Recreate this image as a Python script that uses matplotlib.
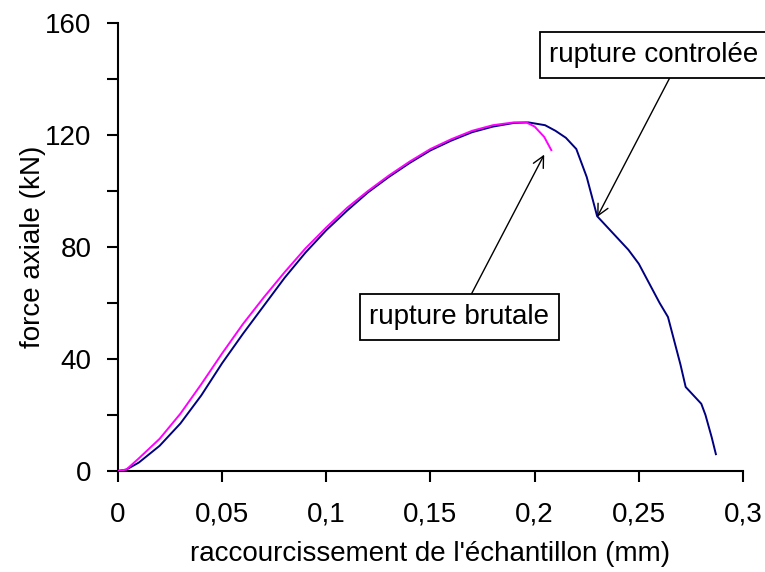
import matplotlib
matplotlib.use("Agg")
import matplotlib.pyplot as plt
from matplotlib.ticker import MultipleLocator, FuncFormatter

# controlled rupture (blue) and brutal rupture (magenta) curves
blue_x = [0, 0.004, 0.01, 0.02, 0.03, 0.04, 0.05, 0.06, 0.07, 0.08, 0.09, 0.1,
          0.11, 0.12, 0.13, 0.14, 0.15, 0.16, 0.17, 0.18, 0.19, 0.197, 0.205,
          0.21, 0.215, 0.22, 0.225, 0.23, 0.235, 0.24, 0.245, 0.25, 0.255,
          0.26, 0.264, 0.27, 0.2725, 0.28, 0.282, 0.285, 0.287]
blue_y = [0, 0.5, 3, 9, 17, 27, 38.5, 49, 59, 69, 78, 86,
          93, 99.5, 105, 110, 114.5, 118, 121, 123, 124.3, 124.5, 123.5,
          121.5, 119, 115, 105, 91, 87, 83, 79, 74, 67,
          60, 55, 38, 30, 24, 20, 12, 6]
pink_x = [0, 0.004, 0.01, 0.02, 0.03, 0.04, 0.05, 0.06, 0.07, 0.08, 0.09, 0.1,
          0.11, 0.12, 0.13, 0.14, 0.15, 0.16, 0.17, 0.18, 0.19, 0.196, 0.2,
          0.2046, 0.208]
pink_y = [0, 0.5, 4.5, 11.5, 20.5, 31, 42, 52.5, 62, 71, 79.5, 87,
          94, 100, 105.5, 110.5, 115, 118.5, 121.5, 123.5, 124.5, 124.5, 123,
          119.3, 114.6]

x_ticks = [0, 0.05, 0.1, 0.15, 0.2, 0.25, 0.3]

FONT = ["Liberation Sans", "DejaVu Sans"]
plt.rcParams.update({"font.family": FONT, "font.size": 20})

fig = plt.figure(figsize=(7.65, 5.72), dpi=100)
ax = fig.add_axes([0.1542, 0.1766, 0.8170, 0.7832])

ax.plot(blue_x, blue_y, color="#000080", lw=1.4, zorder=2)
ax.plot(pink_x, pink_y, color="#FF00FF", lw=1.4, zorder=3)

ax.set_xlim(0, 0.3)
ax.set_ylim(0, 160)
ax.set_xticks(x_ticks)
ax.xaxis.set_major_formatter(FuncFormatter(lambda v, p: f"{v:g}".replace(".", ",")))
ax.yaxis.set_major_locator(MultipleLocator(40))
ax.yaxis.set_minor_locator(MultipleLocator(20))
ax.tick_params(which="both", direction="out", length=8, width=1.5, colors="black",
               labelsize=20)
ax.tick_params(axis="x", pad=14)
ax.tick_params(axis="y", pad=11)
for s in ("top", "right"):
    ax.spines[s].set_visible(False)
for s in ("left", "bottom"):
    ax.spines[s].set_linewidth(1.5)

ax.set_xlabel("raccourcissement de l'échantillon (mm)", fontsize=20, labelpad=10)
ax.set_ylabel("force axiale (kN)", fontsize=20)
ax.yaxis.set_label_coords(-0.115, 0.5)

box = dict(boxstyle="square,pad=0.35", fc="white", ec="black", lw=1.3)
ax.annotate("rupture controlée", xy=(0.23, 90.7), xytext=(0.2573, 148.6),
            ha="center", va="center", fontsize=20, bbox=box, annotation_clip=False,
            arrowprops=dict(arrowstyle="->", color="black", lw=1.0,
                            relpos=(0.6, 0.0), shrinkA=0, shrinkB=0))
ax.annotate("rupture brutale", xy=(0.2046, 113), xytext=(0.1639, 55),
            ha="center", va="center", fontsize=20, bbox=box,
            arrowprops=dict(arrowstyle="->", color="black", lw=1.0,
                            shrinkA=0, shrinkB=0))

fig.savefig("out.png", dpi=100, facecolor="white")
